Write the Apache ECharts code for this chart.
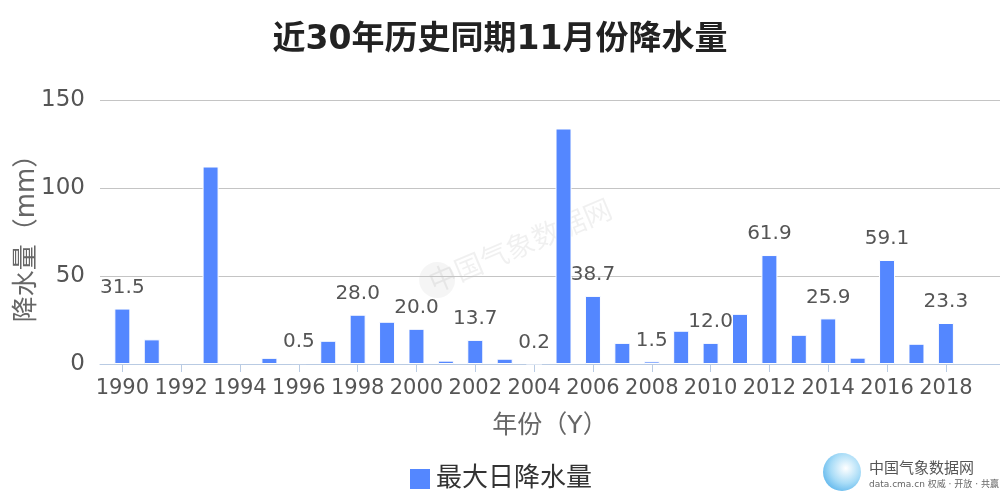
<!DOCTYPE html>
<html>
<head>
<meta charset="utf-8">
<script src="https://cdn.jsdelivr.net/npm/echarts@6/dist/echarts.min.js"></script>
<style>
html,body{margin:0;padding:0;background:#fff;}
#chart{width:1000px;height:500px;}
</style>
</head>
<body>
<div id="chart"></div>
<script>
const titleText = '近30年历史同期11月份降水量';
const seriesName = '最大日降水量';
const years = ['1990','1991','1992','1993','1994','1995','1996','1997','1998','1999',
               '2000','2001','2002','2003','2004','2005','2006','2007','2008','2009',
               '2010','2011','2012','2013','2014','2015','2016','2017','2018','2019'];
const rainfall = [31.5, 14.0, null, 112.2, null, 3.5, 0.5, 13.2, 28.0, 24.0,
                  20.0, 1.9, 13.7, 3.0, 0.2, 133.8, 38.7, 12.0, 1.5, 18.9,
                  12.0, 28.5, 61.9, 16.6, 25.9, 3.6, 59.1, 11.5, 23.3, null];
const yMin = 0, yMax = 150, yInterval = 50;

const FONT = 'DejaVu Sans, "Noto Sans CJK SC", sans-serif';
const labelIdx = years.map((y, i) => i).filter(i => i % 2 === 0);

const chart = echarts.init(document.getElementById('chart'), null, {renderer: 'canvas'});
chart.setOption({
  animation: false,
  backgroundColor: '#fff',
  textStyle: {fontFamily: FONT},
  title: {
    text: titleText,
    left: 'center',
    top: 19,
    textStyle: {fontSize: 33, fontWeight: 'bold', color: '#222', fontFamily: FONT}
  },
  grid: {left: 100, right: 0, top: 100, bottom: 136, containLabel: false, outerBoundsMode: 'none'},
  legend: {
    data: [seriesName],
    bottom: 3,
    left: 'center',
    icon: 'rect',
    itemWidth: 22,
    itemHeight: 22,
    itemGap: 10,
    textStyle: {fontSize: 26, color: '#333', fontFamily: FONT}
  },
  xAxis: {
    type: 'value',
    min: -0.76,
    max: 29.84,
    name: '年份（Y）',
    nameLocation: 'middle',
    nameGap: 50,
    nameTextStyle: {fontSize: 25, color: '#666', fontFamily: FONT},
    axisLine: {show: true, lineStyle: {color: '#b9cbe3', width: 1}},
    axisTick: {show: true, length: 8, customValues: labelIdx, lineStyle: {color: '#b9cbe3'}},
    splitLine: {show: false},
    axisLabel: {
      customValues: labelIdx,
      formatter: v => years[Math.round(v)],
      fontSize: 21,
      color: '#555',
      margin: 14,
      fontFamily: FONT
    }
  },
  yAxis: {
    type: 'value',
    min: yMin,
    max: yMax,
    interval: yInterval,
    name: '降水量（mm）',
    nameLocation: 'middle',
    nameGap: 60,
    nameMoveOverlap: false,
    nameTextStyle: {fontSize: 26, color: '#666', fontFamily: FONT},
    axisLine: {show: false},
    axisTick: {show: false},
    splitLine: {lineStyle: {color: '#c4c4c4', width: 1}},
    axisLabel: {fontSize: 23, color: '#555', margin: 15, fontFamily: FONT}
  },
  series: [{
    name: seriesName,
    type: 'bar',
    barWidth: 16,
    data: years.map((y, i) => [i, rainfall[i]]),
    itemStyle: {color: '#5487ff', borderColor: '#ffffff', borderWidth: 1},
    label: {
      show: true,
      position: 'top',
      distance: 11,
      fontSize: 20,
      color: '#555',
      fontFamily: FONT,
      formatter: p => (p.dataIndex % 2 === 0 && p.value[1] != null) ? p.value[1].toFixed(1) : ''
    }
  }],
  graphic: [
    {
      type: 'group',
      x: 520, y: 245, rotation: 0.4, silent: true, z: -1,
      children: [
        {type: 'circle', shape: {cx: -90, cy: 0, r: 18}, style: {fill: 'rgba(0,0,0,0.04)'}},
        {type: 'text', style: {text: '中国气象数据网', x: 0, y: 0, align: 'center', verticalAlign: 'middle',
          font: '28px "Noto Sans CJK SC", sans-serif', fill: 'rgba(0,0,0,0.06)'}}
      ]
    },
    {
      type: 'circle', shape: {cx: 842, cy: 472, r: 19}, silent: true,
      style: {fill: new echarts.graphic.RadialGradient(0.6, 0.4, 0.8, [
        {offset: 0, color: '#ffffff'}, {offset: 0.5, color: '#a8dcf7'}, {offset: 1, color: '#3fa6e8'}])}
    },
    {
      type: 'text', silent: true,
      style: {text: '中国气象数据网', x: 869, y: 467, verticalAlign: 'middle',
        font: '15px "Noto Sans CJK SC", sans-serif', fill: '#555'}
    },
    {
      type: 'text', silent: true,
      style: {text: 'data.cma.cn 权威 · 开放 · 共赢', x: 869, y: 485, verticalAlign: 'middle',
        font: '9px DejaVu Sans, "Noto Sans CJK SC", sans-serif', fill: '#666'}
    }
  ]
});
</script>
</body>
</html>
